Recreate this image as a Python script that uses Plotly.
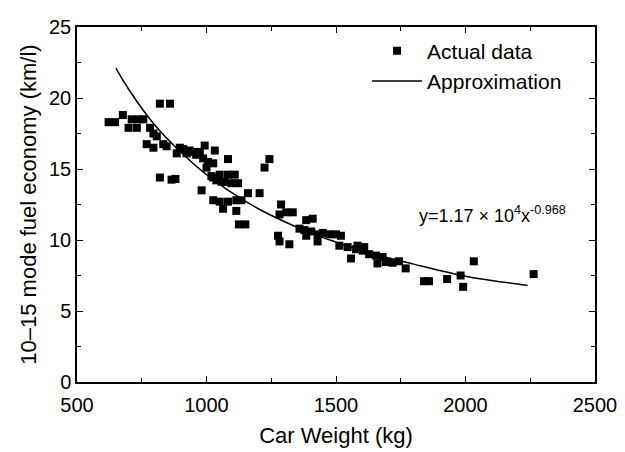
import plotly.graph_objects as go

# scatter data
weight = [622, 647, 677, 699, 711, 731, 737, 756, 782, 795, 808, 769, 795, 833, 846,
          820, 859, 820, 865, 880, 897, 885, 923, 949, 910, 935, 960, 993, 1032, 974,
          987, 1006, 1026, 1000, 981, 1026, 1058, 1083, 1243, 1224, 1019, 1051, 1083,
          1109, 1038, 1070, 1096, 1122, 1160, 1205, 1026, 1051, 1083, 1115, 1135, 1064,
          1115, 1125, 1150, 1288, 1282, 1308, 1333, 1385, 1410, 1276, 1282, 1320, 1359,
          1378, 1404, 1429, 1449, 1474, 1500, 1519, 1385, 1429, 1513, 1545, 1577, 1603,
          1558, 1583, 1609, 1628, 1654, 1680, 1660, 1692, 1718, 1743, 1769, 1840, 1859,
          1929, 1981, 1991, 2032, 2263]
economy = [18.3, 18.3, 18.8, 17.9, 18.5, 17.9, 18.5, 18.5, 17.9, 17.5, 17.3, 16.75, 16.5,
           16.75, 16.6, 19.6, 19.6, 14.4, 14.25, 14.3, 16.5, 16.1, 16.1, 16.2, 16.4, 16.3,
           16.0, 16.65, 16.3, 16.2, 15.75, 15.5, 15.4, 15.1, 13.5, 14.4, 14.1, 15.7, 15.7,
           15.1, 14.5, 14.6, 14.6, 14.6, 14.2, 14.1, 14.0, 14.0, 13.3, 13.3, 12.8, 12.7,
           12.7, 12.8, 12.8, 12.2, 12.05, 11.1, 11.1, 12.5, 11.8, 11.95, 11.95, 11.4, 11.5,
           10.3, 9.9, 9.7, 10.8, 10.7, 10.6, 10.4, 10.5, 10.4, 10.4, 10.3, 10.3, 9.9, 9.6,
           9.5, 9.35, 9.25, 8.7, 9.6, 9.5, 9.0, 8.9, 8.8, 8.35, 8.45, 8.4, 8.5, 8.0, 7.1,
           7.1, 7.25, 7.5, 6.7, 8.5, 7.6]

# approximation curve
curve_w = [650, 700, 800, 900, 1000, 1100, 1200, 1300, 1400, 1500, 1600, 1700, 1800,
           1900, 2000, 2100, 2240]
curve_e = [22.1, 20.6, 18.1, 16.2, 14.6, 13.3, 12.2, 11.3, 10.5, 9.85, 9.25, 8.75, 8.3,
           7.85, 7.45, 7.15, 6.8]

font = "Liberation Sans, Arial, sans-serif"

fig = go.Figure()
fig.add_trace(go.Scatter(x=weight, y=economy, mode="markers", name="Actual data",
                         marker=dict(symbol="square", size=8, color="black")))
fig.add_trace(go.Scatter(x=curve_w, y=curve_e, mode="lines", name="Approximation",
                         line=dict(color="black", width=1.5, shape="spline")))

axis = dict(showgrid=False, zeroline=False, showline=True, linecolor="black",
            linewidth=1.5, mirror="allticks", ticks="inside", ticklen=6,
            tickcolor="black", tickfont=dict(size=20, color="black"),
            ticklabeloverflow="allow")

fig.update_xaxes(range=[500, 2500], dtick=500, ticklabelstandoff=4,
                 title=dict(text="Car Weight (kg)", font=dict(size=22, color="black"),
                            standoff=13),
                 minor=dict(dtick=250, ticks="inside", ticklen=4, tickcolor="black"), **axis)
fig.update_yaxes(range=[0, 25], dtick=5,
                 title=dict(text="10–15 mode fuel economy (km/l)",
                            font=dict(size=22, color="black"), standoff=6),
                 minor=dict(dtick=2.5, ticks="inside", ticklen=4, tickcolor="black"), **axis)

fig.add_annotation(x=2104, y=11.8, text="y=1.17 × 10<sup>4</sup>x<sup>-0.968</sup>",
                   showarrow=False, font=dict(size=18, color="black"))

# the page body adds 8px on top and left, so the figure is a bit smaller
fig.update_layout(
    width=617, height=444,
    margin=dict(l=69, r=28, t=8, b=69),
    plot_bgcolor="white", paper_bgcolor="white",
    font=dict(family=font, color="black"),
    legend=dict(x=0.56, y=0.99, xanchor="left", yanchor="top", itemwidth=50,
                bgcolor="rgba(0,0,0,0)", font=dict(size=21), tracegroupgap=0),
)

fig.write_html("out.html")
